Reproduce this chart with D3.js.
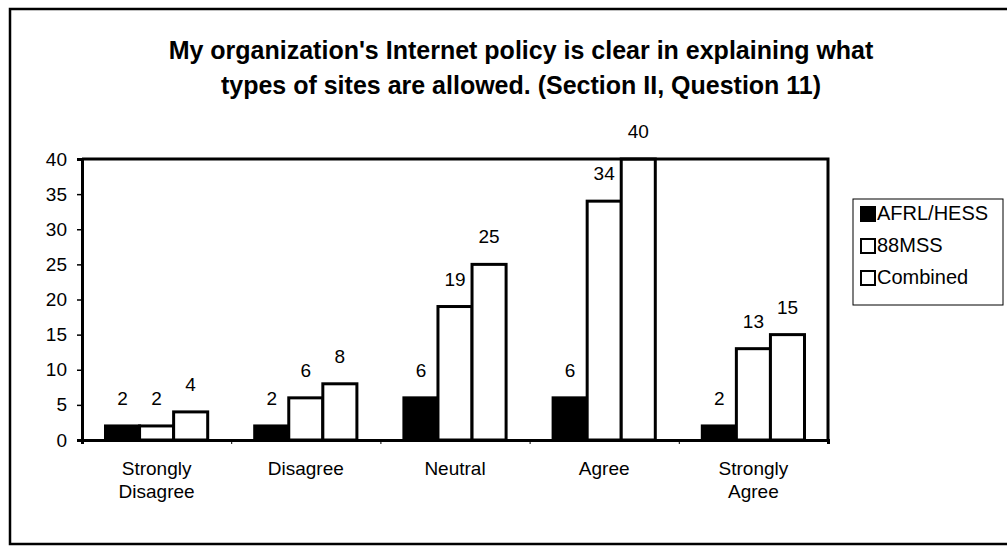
<!DOCTYPE html>
<html lang="en">
<head>
<meta charset="UTF-8">
<title>Internet policy clarity</title>
<script src="https://d3js.org/d3.v7.min.js"></script>
<style>
    body { margin: 0; background: #fff; }
    svg { display: block; font-family: "Liberation Sans", Arial, sans-serif; }
    .title { font-size: 25px; font-weight: bold; }
    .tick-label { font-size: 19px; }
    .cat-label { font-size: 19px; }
    .value-label { font-size: 19px; }
    .legend-label { font-size: 20px; }
</style>
</head>
<body>
<div id="chart"></div>
<script>
    // data
    const categories = [["Strongly", "Disagree"], ["Disagree"], ["Neutral"], ["Agree"], ["Strongly", "Agree"]];
    const series = ["AFRL/HESS", "88MSS", "Combined"];
    const afrlHess = [2, 2, 6, 6, 2];
    const mss88 = [2, 6, 19, 34, 13];
    const combined = [4, 8, 25, 40, 15];
    const yTicks = [0, 5, 10, 15, 20, 25, 30, 35, 40];
    const titleLines = [
        "My organization's Internet policy is clear in explaining what",
        "types of sites are allowed. (Section II, Question 11)"
    ];

    const width = 1007, height = 548;
    const margin = { left: 82, top: 159, right: 828, bottom: 440 };
    const fills = ["#000", "#fff", "#fff"];

    const svg = d3.select("#chart").append("svg")
        .attr("width", width)
        .attr("height", height);

    // outer frame
    svg.append("rect")
        .attr("x", 10).attr("y", 9)
        .attr("width", 1010).attr("height", 535)
        .attr("fill", "none").attr("stroke", "#000").attr("stroke-width", 2.5);

    // title
    svg.selectAll("text.title")
        .data(titleLines)
        .join("text")
        .attr("class", "title")
        .attr("x", 521)
        .attr("y", (d, i) => 59 + i * 35)
        .attr("text-anchor", "middle")
        .text(d => d);

    const catIdx = categories.map((c, i) => i);
    const x0 = d3.scaleBand().domain(catIdx).range([margin.left, margin.right]);
    const x1 = d3.scaleBand().domain(series).range([0, x0.bandwidth()]).paddingOuter(0.69);
    const y = d3.scaleLinear().domain([0, 40]).range([margin.bottom, margin.top]);

    const rows = catIdx.map(i => ({ i, values: [afrlHess[i], mss88[i], combined[i]] }));

    // bars
    const groups = svg.append("g").selectAll("g")
        .data(rows)
        .join("g")
        .attr("transform", d => `translate(${x0(d.i)},0)`);

    groups.selectAll("rect")
        .data(d => d.values.map((v, k) => ({ k, v })))
        .join("rect")
        .attr("x", d => x1(series[d.k]))
        .attr("y", d => y(d.v))
        .attr("width", x1.bandwidth())
        .attr("height", d => y(0) - y(d.v))
        .attr("fill", d => fills[d.k])
        .attr("stroke", "#000")
        .attr("stroke-width", 3);

    groups.selectAll("text")
        .data(d => d.values.map((v, k) => ({ k, v })))
        .join("text")
        .attr("class", "value-label")
        .attr("x", d => x1(series[d.k]) + x1.bandwidth() / 2)
        .attr("y", d => y(d.v) - 21)
        .attr("text-anchor", "middle")
        .text(d => d.v);

    // plot frame (top and right edges)
    svg.append("path")
        .attr("d", `M${margin.left},${margin.top}H${margin.right}V${margin.bottom}`)
        .attr("fill", "none").attr("stroke", "#000").attr("stroke-width", 3);

    // y axis
    const yAxis = svg.append("g")
        .attr("transform", `translate(${margin.left},0)`)
        .call(d3.axisLeft(y).tickValues(yTicks).tickSize(5).tickPadding(10));
    yAxis.select(".domain").attr("stroke-width", 3);
    yAxis.selectAll(".tick line").attr("stroke-width", 1.5);
    yAxis.selectAll(".tick text")
        .attr("class", "tick-label")
        .attr("font-size", null).attr("font-family", null)
        .attr("fill", "#000");

    // x axis
    const xAxis = svg.append("g")
        .attr("transform", `translate(0,${margin.bottom})`)
        .call(d3.axisBottom(d3.scaleLinear().domain([0, 5]).range([margin.left, margin.right]))
            .ticks(5).tickSize(4).tickFormat(""));
    xAxis.select(".domain").attr("stroke-width", 3);
    xAxis.selectAll(".tick line").attr("stroke-width", 1);

    const catLabels = svg.append("g").selectAll("text")
        .data(rows)
        .join("text")
        .attr("class", "cat-label")
        .attr("x", d => x0(d.i) + x0.bandwidth() / 2)
        .attr("y", 475)
        .attr("text-anchor", "middle");
    catLabels.selectAll("tspan")
        .data(d => categories[d.i])
        .join("tspan")
        .attr("x", function () { return d3.select(this.parentNode).attr("x"); })
        .attr("dy", (d, i) => i === 0 ? 0 : 23)
        .text(d => d);

    // legend
    const legend = svg.append("g");
    legend.append("rect")
        .attr("x", 853).attr("y", 199)
        .attr("width", 150).attr("height", 106)
        .attr("fill", "#fff").attr("stroke", "#000").attr("stroke-width", 1);

    const items = legend.selectAll("g")
        .data(series)
        .join("g")
        .attr("transform", (d, i) => `translate(861,${220 + i * 32})`);
    items.append("rect")
        .attr("x", 0).attr("y", -13)
        .attr("width", 14).attr("height", 14)
        .attr("fill", (d, i) => fills[i])
        .attr("stroke", "#000").attr("stroke-width", 2);
    items.append("text")
        .attr("class", "legend-label")
        .attr("x", 16)
        .attr("y", 0)
        .text(d => d);
</script>
</body>
</html>
